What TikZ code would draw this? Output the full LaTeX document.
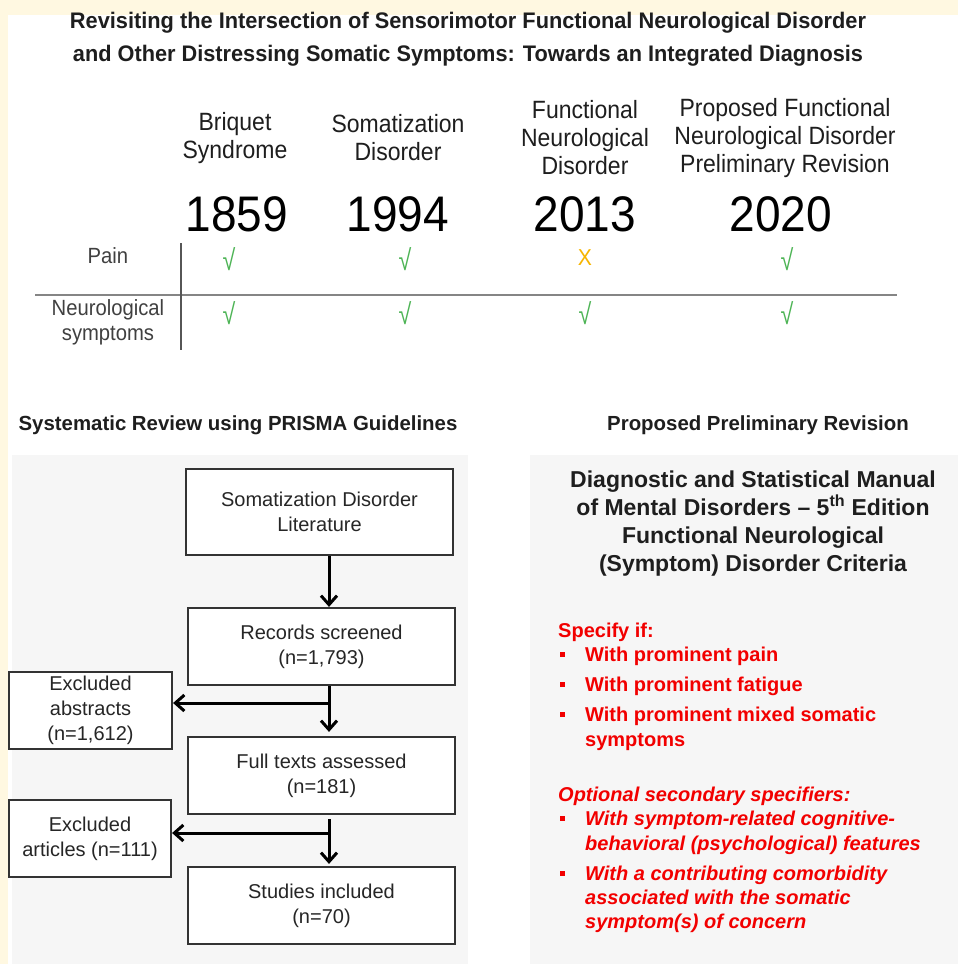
\documentclass[tikz,border=0pt]{standalone}
\usepackage{fontspec}
\usepackage{graphicx}
\setmainfont{Liberation Sans}
\newfontfamily\narrowfont[FakeStretch=0.92]{Liberation Sans}
\newfontfamily\chkfont[FakeStretch=0.8]{Liberation Sans}
\usetikzlibrary{arrows.meta}
\definecolor{cream}{HTML}{FFF8E1}
\definecolor{panelgray}{HTML}{F6F6F6}
\definecolor{boxline}{HTML}{333333}
\definecolor{boxtext}{HTML}{262626}
\definecolor{redtxt}{HTML}{F20000}
\definecolor{chkgreen}{HTML}{4DB455}
\definecolor{xorange}{HTML}{F7B500}
\definecolor{rulegray}{HTML}{858585}
\definecolor{darktxt}{HTML}{1E1E1E}
\begin{document}
\begin{tikzpicture}[x=1pt,y=-1pt,
  flowbox/.style={draw=boxline, line width=2.2pt, fill=white, inner sep=0pt, align=center, text=boxtext, font=\fontsize{20}{25}\selectfont},
  arr/.style={line width=3pt, -{Straight Barb[length=9pt,width=16pt]}},
  hdr/.style={font=\narrowfont\fontsize{25}{28}\selectfont, align=center, text=darktxt},
  yearlab/.style={font=\narrowfont\fontsize{50}{50}\selectfont, text=black},
  rowlab/.style={font=\narrowfont\fontsize{22}{25}\selectfont, align=center, text=darktxt!85},
  chk/.style={font=\chkfont\fontsize{29}{29}\selectfont, text=chkgreen},
  crossm/.style={font=\narrowfont\fontsize{23}{23}\selectfont, text=xorange},
  sechead/.style={font=\bfseries\fontsize{20.4}{24}\selectfont, text=darktxt},
  rtitle/.style={font=\bfseries\fontsize{23}{28}\selectfont, align=center, text=darktxt},
  redline/.style={anchor=base west, inner sep=0pt, text=redtxt, font=\bfseries\fontsize{20}{25}\selectfont},
  reditl/.style={redline, font=\bfseries\itshape\fontsize{20}{25}\selectfont},
  sqbullet/.style={fill=redtxt, minimum size=5pt, inner sep=0pt}
]
\useasboundingbox (0,0) rectangle (958,964);
% backgrounds
\fill[white] (0,0) rectangle (958,964);
\fill[cream] (0,0) rectangle (958,15);
\fill[cream] (0,0) rectangle (8,964);
\fill[panelgray] (12,455) rectangle (468,964);
\fill[panelgray] (530,455) rectangle (958,964);

% title
\node[font=\bfseries\fontsize{22.5}{22.5}\selectfont, text=darktxt] (t1) at (468,23)
  {\resizebox{796pt}{\height}{Revisiting the Intersection of Sensorimotor Functional Neurological Disorder}};
\node[font=\bfseries\fontsize{22.5}{22.5}\selectfont, text=darktxt] (t2) at (468,56)
  {\resizebox{790pt}{\height}{and Other Distressing Somatic Symptoms: Towards an Integrated Diagnosis}};

% table headers
\node[hdr] (h1) at (235,138) {Briquet\\Syndrome};
\node[hdr] (h2) at (398,138) {Somatization\\Disorder};
\node[hdr] (h3) at (585,138) {Functional\\Neurological\\Disorder};
\node[hdr] (h4) at (785,138) {Proposed Functional\\Neurological Disorder\\Preliminary Revision};

\node[yearlab] (y1) at (237,214) {1859};
\node[yearlab] (y2) at (398,214) {1994};
\node[yearlab] (y3) at (585,214) {2013};
\node[yearlab] (y4) at (781,214) {2020};

% table rules
\draw[rulegray, line width=2.5pt] (35,295) -- (897,295);
\draw[darktxt!75, line width=1.4pt] (181,243) -- (181,350);

\node[rowlab] (rpain) at (108,256) {Pain};
\node[rowlab] (rneuro) at (108,322) {Neurological\\symptoms};

\node[chk] (c11) at (229,259) {√};
\node[chk] (c12) at (405,259) {√};
\node[crossm] (c13) at (585,258) {X};
\node[chk] (c14) at (787,259) {√};
\node[chk] (c21) at (229,313) {√};
\node[chk] (c22) at (405,313) {√};
\node[chk] (c23) at (585,313) {√};
\node[chk] (c24) at (787,313) {√};

% section headings
\node[sechead] (s1) at (238,425) {Systematic Review using PRISMA Guidelines};
\node[sechead] (s2) at (758,425) {Proposed Preliminary Revision};

% flowchart
\coordinate (ax) at (329,0);
\node[flowbox, minimum width=267pt, minimum height=86pt] (b1) at (319.5,512) {Somatization Disorder\\Literature};
\node[flowbox, minimum width=267pt, minimum height=77pt] (b2) at (321.5,646.5) {Records screened\\(n=1,793)};
\node[flowbox, minimum width=267pt, minimum height=77pt] (b3) at (321.5,775.5) {Full texts assessed\\(n=181)};
\node[flowbox, minimum width=267pt, minimum height=77pt] (b4) at (321.5,905.5) {Studies included\\(n=70)};
\node[flowbox, minimum width=163pt, minimum height=77pt] (e1) at (90.5,710.5) {Excluded\\abstracts\\(n=1,612)};
\node[flowbox, minimum width=162pt, minimum height=77pt] (e2) at (90,838.5) {Excluded\\articles (n=111)};

\coordinate (j1) at (329,703);
\coordinate (j2) at (329,833);
\draw[arr] (b1.south -| ax) -- (b2.north -| ax);
\draw[arr, shorten >=4pt] (b2.south -| ax) -- (b3.north -| ax);
\draw[arr, shorten <=4pt, shorten >=2pt] (b3.south -| ax) -- (b4.north -| ax);
\draw[arr] (j1) -- (j1 -| e1.east);
\draw[arr] (j2) -- (j2 -| e2.east);

% right panel
\node[rtitle] (rt) at (753,524) {Diagnostic and Statistical Manual\\of Mental Disorders -- 5\textsuperscript{th} Edition\\Functional Neurological\\(Symptom) Disorder Criteria};

\node[redline] (sp) at (558,637) {Specify if:};
\node[sqbullet] (q1) at (562.5,654) {};
\node[redline] (l1) at (585,661) {With prominent pain};
\node[sqbullet] (q2) at (562.5,684) {};
\node[redline] (l2) at (585,691) {With prominent fatigue};
\node[sqbullet] (q3) at (562.5,714) {};
\node[redline] (l3a) at (585,721) {With prominent mixed somatic};
\node[redline] (l3b) at (585,746) {symptoms};

\node[reditl] (op) at (558,801) {Optional secondary specifiers:};
\node[sqbullet] (q4) at (562.5,818) {};
\node[reditl] (l4a) at (585,825) {With symptom-related cognitive-};
\node[reditl] (l4b) at (585,850) {behavioral (psychological) features};
\node[sqbullet] (q5) at (562.5,873) {};
\node[reditl] (l5a) at (585,880) {With a contributing comorbidity};
\node[reditl] (l5b) at (585,904) {associated with the somatic};
\node[reditl] (l5c) at (585,928) {symptom(s) of concern};
\end{tikzpicture}
\end{document}
